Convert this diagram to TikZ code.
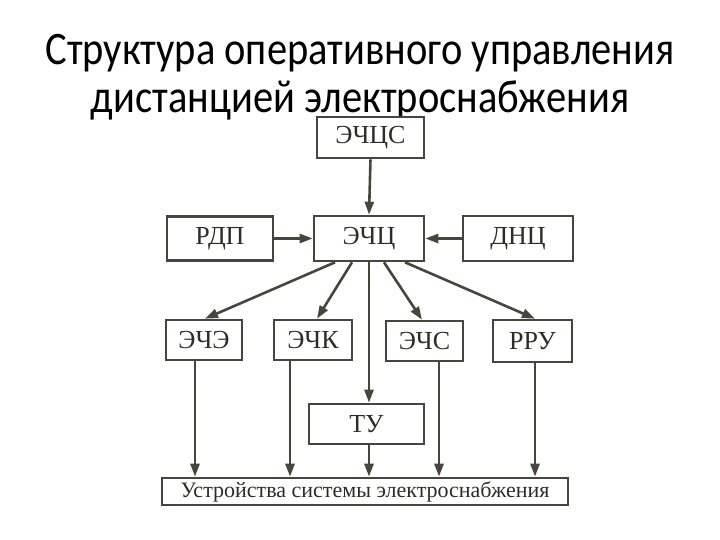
\documentclass[tikz,border=0pt]{standalone}
\usepackage{fontspec}
\setmainfont{Liberation Serif}
\newfontfamily\titlefont{Carlito}
\usetikzlibrary{arrows.meta}
\definecolor{ink}{RGB}{72,70,60}
\definecolor{txt}{RGB}{45,45,40}
\tikzset{
  box/.style={draw=ink, line width=2.6pt, inner sep=0pt, fill=white, text=txt, font=\fontsize{26}{28}\selectfont},
  arr/.style={draw=ink, line width=2.6pt, -{Triangle[length=13pt,width=9pt]}},
  ttl/.style={anchor=base, inner sep=0pt, font=\titlefont\fontsize{40.5}{44}\selectfont}
}
\begin{document}
\begin{tikzpicture}[x=1pt,y=-1pt]
\useasboundingbox (0,0) rectangle (720,540);
\node[ttl] (title1) at (360,65) {\scalebox{1}[1.15]{Структура оперативного управления}};
\node[ttl] (title2) at (360,113) {\scalebox{1}[1.15]{дистанцией электроснабжения}};

\node[box, minimum width=107pt, minimum height=41pt] (echcs) at (370.5,137.5) {ЭЧЦС};
\node[box, minimum width=110pt, minimum height=45pt] (echc) at (369,238.5) {ЭЧЦ};
\node[box, minimum width=106pt, minimum height=44pt] (rdp) at (220,238.5) {РДП};
\node[box, minimum width=110pt, minimum height=45pt] (dnc) at (518,238.5) {ДНЦ};
\node[box, minimum width=76pt, minimum height=40pt] (eche) at (204,340) {ЭЧЭ};
\node[box, minimum width=78pt, minimum height=40pt] (echk) at (313,340) {ЭЧК};
\node[box, minimum width=77pt, minimum height=40pt] (echs) at (424.5,341) {ЭЧС};
\node[box, minimum width=79pt, minimum height=42pt] (rru) at (532.5,341) {РРУ};
\node[box, minimum width=115pt, minimum height=40pt] (tu) at (366.5,424) {ТУ};
\node[box, minimum width=406pt, minimum height=27pt, font=\fontsize{22}{24}\selectfont] (ustr) at (365,491.5) {Устройства системы электроснабжения};

\draw[arr] (echcs.south) -- (echc.north);
\draw[arr] (rdp.east) -- (echc.west);
\draw[arr] (dnc.west) -- (echc.east);

\draw[arr] ([xshift=-34pt]echc.south) -- ([xshift=1pt]eche.north);
\draw[arr] ([xshift=-17pt]echc.south) -- ([xshift=4pt]echk.north);
\draw[arr] ([xshift=15pt]echc.south) -- ([xshift=-2.5pt]echs.north);
\draw[arr] ([xshift=36pt]echc.south) -- ([xshift=2.5pt]rru.north);
\draw[arr] (echc.south) -- (echc.south |- tu.north);

\draw[arr] ([xshift=-9pt]eche.south) -- ([xshift=-9pt]eche.south |- ustr.north);
\draw[arr] ([xshift=-23pt]echk.south) -- ([xshift=-23pt]echk.south |- ustr.north);
\draw[arr] ([xshift=14.5pt]echs.south) -- ([xshift=14.5pt]echs.south |- ustr.north);
\draw[arr] ([xshift=2.5pt]rru.south) -- ([xshift=2.5pt]rru.south |- ustr.north);
\draw[arr] (echc.south |- tu.south) -- (echc.south |- ustr.north);
\end{tikzpicture}
\end{document}
